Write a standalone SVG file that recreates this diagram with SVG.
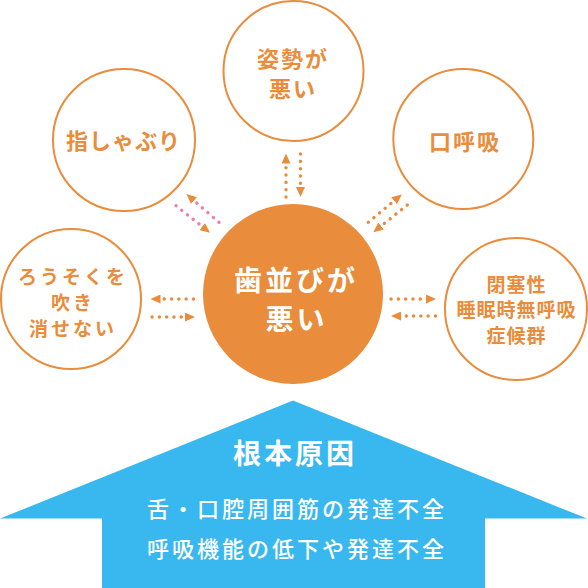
<svg xmlns="http://www.w3.org/2000/svg" width="588" height="588" viewBox="0 0 588 588">
<style>
.ring{fill:#fff;stroke:#E98C3B;stroke-width:2}
.lbl{font-family:"Noto Sans CJK JP","Noto Sans CJK SC",sans-serif;font-weight:700;fill:#E98C3B;text-anchor:middle}
.wl{font-family:"Noto Sans CJK JP","Noto Sans CJK SC",sans-serif;fill:#fff;text-anchor:middle}
.dots{fill:none;stroke:#E98C3B;stroke-width:3.4;stroke-linecap:round;stroke-dasharray:0.1 7.2}
.pink{stroke:#F17EA4}
</style>
<defs>
<marker id="ah" viewBox="0 0 10 9" refX="0" refY="4.5" markerWidth="10" markerHeight="9" markerUnits="userSpaceOnUse" orient="auto">
<path d="M0,0 L10,4.5 L0,9 Z" fill="#E98C3B"/>
</marker>
</defs>
<g id="root-cause">
<polygon points="293,400.5 587,518.6 485,518.6 485,588 102,588 102,518.6 0,518.6" fill="#39B7EF"/>
<text class="wl" x="295" y="464" font-size="28" font-weight="700" letter-spacing="3">根本原因</text>
<text class="wl" x="297" y="517" font-size="22" font-weight="500" letter-spacing="3">舌・口腔周囲筋の発達不全</text>
<text class="wl" x="297" y="557" font-size="22" font-weight="500" letter-spacing="3">呼吸機能の低下や発達不全</text>
</g>
<g id="connectors">
<line class="dots" x1="286" y1="197" x2="286" y2="163.5" marker-end="url(#ah)"/>
<line class="dots" x1="300.5" y1="154" x2="300.5" y2="187" marker-end="url(#ah)"/>
<line class="dots" x1="368.3" y1="222.3" x2="394.1" y2="200.8" marker-end="url(#ah)"/>
<line class="dots" x1="407.3" y1="205" x2="381.1" y2="226" marker-end="url(#ah)"/>
<line class="dots pink" x1="219" y1="222.3" x2="194" y2="200.6" marker-end="url(#ah)"/>
<line class="dots pink" x1="176" y1="205.7" x2="202.2" y2="226.5" marker-end="url(#ah)"/>
<line class="dots" x1="193.5" y1="299" x2="160.5" y2="299" marker-end="url(#ah)"/>
<line class="dots" x1="152" y1="317" x2="185" y2="317" marker-end="url(#ah)"/>
<line class="dots" x1="391" y1="299" x2="426" y2="299" marker-end="url(#ah)"/>
<line class="dots" x1="435.5" y1="316" x2="401" y2="316" marker-end="url(#ah)"/>
</g>
<g id="center">
<circle cx="293" cy="294" r="90" fill="#E98C3B"/>
<text class="wl" x="296" y="291" font-size="28" font-weight="700" letter-spacing="3">歯並びが</text>
<text class="wl" x="296.5" y="330" font-size="28" font-weight="700" letter-spacing="3">悪い</text>
</g>
<g id="posture">
<circle class="ring" cx="293.5" cy="71" r="70"/>
<text class="lbl" x="293" y="67.4" font-size="22" letter-spacing="2">姿勢が</text>
<text class="lbl" x="293" y="97.4" font-size="22" letter-spacing="2">悪い</text>
</g>
<g id="thumb">
<circle class="ring" cx="124" cy="140" r="71"/>
<text class="lbl" x="123.5" y="149.4" font-size="22" letter-spacing="1">指しゃぶり</text>
</g>
<g id="mouth-breathing">
<circle class="ring" cx="463.3" cy="139" r="70"/>
<text class="lbl" x="465" y="150" font-size="22" letter-spacing="2">口呼吸</text>
</g>
<g id="candle">
<circle class="ring" cx="71" cy="299" r="70"/>
<text class="lbl" x="73" y="284.2" font-size="19" letter-spacing="3">ろうそくを</text>
<text class="lbl" x="73" y="310.2" font-size="19" letter-spacing="3">吹き</text>
<text class="lbl" x="73" y="335.6" font-size="19" letter-spacing="3">消せない</text>
</g>
<g id="apnea">
<circle class="ring" cx="516" cy="309" r="71"/>
<text class="lbl" x="516.5" y="292.2" font-size="19" letter-spacing="1">閉塞性</text>
<text class="lbl" x="516.5" y="317.2" font-size="19" letter-spacing="1">睡眠時無呼吸</text>
<text class="lbl" x="516.5" y="343.2" font-size="19" letter-spacing="1">症候群</text>
</g>
</svg>
